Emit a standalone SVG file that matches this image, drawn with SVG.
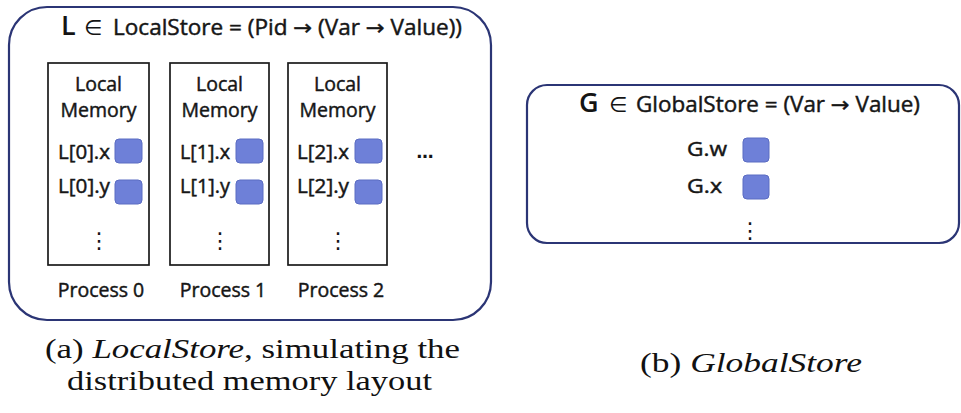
<svg xmlns="http://www.w3.org/2000/svg" width="961" height="413" viewBox="0 0 961 413">
  <style>
    .store { fill: #ffffff; stroke: #2b3575; stroke-width: 2.2; }
    .mem { fill: #ffffff; stroke: #1a1a1a; stroke-width: 1.7; }
    .cell { fill: #6e80d8; stroke: #5b6cc2; stroke-width: 1; }
    .lbl { font-family: "Open Sans", "Liberation Sans", sans-serif; font-size: 19.5px; fill: #161616; stroke: #161616; stroke-width: 0.45; }
    .ttl { font-size: 21px; }
    .mid { text-anchor: middle; }
    .arr { font-family: "DejaVu Sans", sans-serif; }
    .big { font-family: "Open Sans", "Liberation Sans", sans-serif; font-size: 27px; font-weight: 600; fill: #141414; }
    .sym { font-family: "DejaVu Sans", sans-serif; font-size: 21px; fill: #141414; }
    .vdots { font-family: "DejaVu Sans", sans-serif; font-size: 22px; fill: #141414; text-anchor: middle; }
    .hdots { font-family: "DejaVu Sans", sans-serif; font-size: 17px; font-weight: bold; fill: #141414; text-anchor: middle; }
    .cap { font-family: "Liberation Serif", serif; font-size: 28px; fill: #111111; }
    .it { font-style: italic; }
  </style>

  <!-- (a) per-process local stores -->
  <g id="local-store">
    <rect class="store" x="9" y="7" width="482" height="313" rx="38" ry="38"/>
    <text class="big" x="61" y="35">L</text>
    <text class="sym" x="84" y="35">∈</text>
    <text class="lbl ttl" x="113" y="35" textLength="349" lengthAdjust="spacingAndGlyphs">LocalStore = (Pid <tspan class="arr">→</tspan> (Var <tspan class="arr">→</tspan> Value))</text>
    <text class="hdots" x="425" y="158">…</text>
  </g>

  <g id="process-0">
    <rect class="mem" x="48" y="63" width="101" height="202"/>
    <text class="lbl mid" x="98.5" y="91">Local</text>
    <text class="lbl mid" x="98.5" y="117">Memory</text>
    <text class="lbl" x="58" y="159" textLength="52" lengthAdjust="spacingAndGlyphs">L[0].x</text>
    <rect class="cell" x="115" y="139" width="27" height="24" rx="4"/>
    <text class="lbl" x="58" y="193" textLength="52" lengthAdjust="spacingAndGlyphs">L[0].y</text>
    <rect class="cell" x="115" y="180" width="27" height="24" rx="4"/>
    <text class="vdots" x="99" y="248">⋮</text>
    <text class="lbl mid" x="101" y="297">Process 0</text>
  </g>

  <g id="process-1">
    <rect class="mem" x="170" y="63" width="99" height="202"/>
    <text class="lbl mid" x="219.5" y="91">Local</text>
    <text class="lbl mid" x="219.5" y="117">Memory</text>
    <text class="lbl" x="180" y="159" textLength="50" lengthAdjust="spacingAndGlyphs">L[1].x</text>
    <rect class="cell" x="236" y="139" width="27" height="24" rx="4"/>
    <text class="lbl" x="180" y="193" textLength="50" lengthAdjust="spacingAndGlyphs">L[1].y</text>
    <rect class="cell" x="236" y="180" width="27" height="24" rx="4"/>
    <text class="vdots" x="220" y="248">⋮</text>
    <text class="lbl mid" x="223" y="297">Process 1</text>
  </g>

  <g id="process-2">
    <rect class="mem" x="288" y="63" width="99" height="202"/>
    <text class="lbl mid" x="337.5" y="91">Local</text>
    <text class="lbl mid" x="337.5" y="117">Memory</text>
    <text class="lbl" x="297" y="159" textLength="52" lengthAdjust="spacingAndGlyphs">L[2].x</text>
    <rect class="cell" x="355" y="139" width="27" height="24" rx="4"/>
    <text class="lbl" x="297" y="193" textLength="52" lengthAdjust="spacingAndGlyphs">L[2].y</text>
    <rect class="cell" x="355" y="180" width="27" height="24" rx="4"/>
    <text class="vdots" x="338" y="248">⋮</text>
    <text class="lbl mid" x="341" y="297">Process 2</text>
  </g>

  <!-- (b) shared global store -->
  <g id="global-store">
    <rect class="store" x="527" y="85" width="432" height="158" rx="20" ry="20"/>
    <text class="big" x="579" y="112">G</text>
    <text class="sym" x="609" y="112">∈</text>
    <text class="lbl ttl" x="636" y="112" textLength="284" lengthAdjust="spacingAndGlyphs">GlobalStore = (Var <tspan class="arr">→</tspan> Value)</text>
    <text class="lbl" x="687" y="156" textLength="40" lengthAdjust="spacingAndGlyphs">G.w</text>
    <rect class="cell" x="743" y="138" width="26" height="24" rx="4"/>
    <text class="lbl" x="687" y="193" textLength="35" lengthAdjust="spacingAndGlyphs">G.x</text>
    <rect class="cell" x="743" y="175" width="26" height="24" rx="4"/>
    <text class="vdots" x="750" y="238">⋮</text>
  </g>

  <!-- sub-figure captions -->
  <g id="captions">
    <text class="cap" x="45" y="358" textLength="415" lengthAdjust="spacingAndGlyphs">(a) <tspan class="it">LocalStore</tspan>, simulating the</text>
    <text class="cap" x="67" y="390" textLength="365" lengthAdjust="spacingAndGlyphs">distributed memory layout</text>
    <text class="cap" x="640" y="372" textLength="222" lengthAdjust="spacingAndGlyphs">(b) <tspan class="it">GlobalStore</tspan></text>
  </g>
</svg>
